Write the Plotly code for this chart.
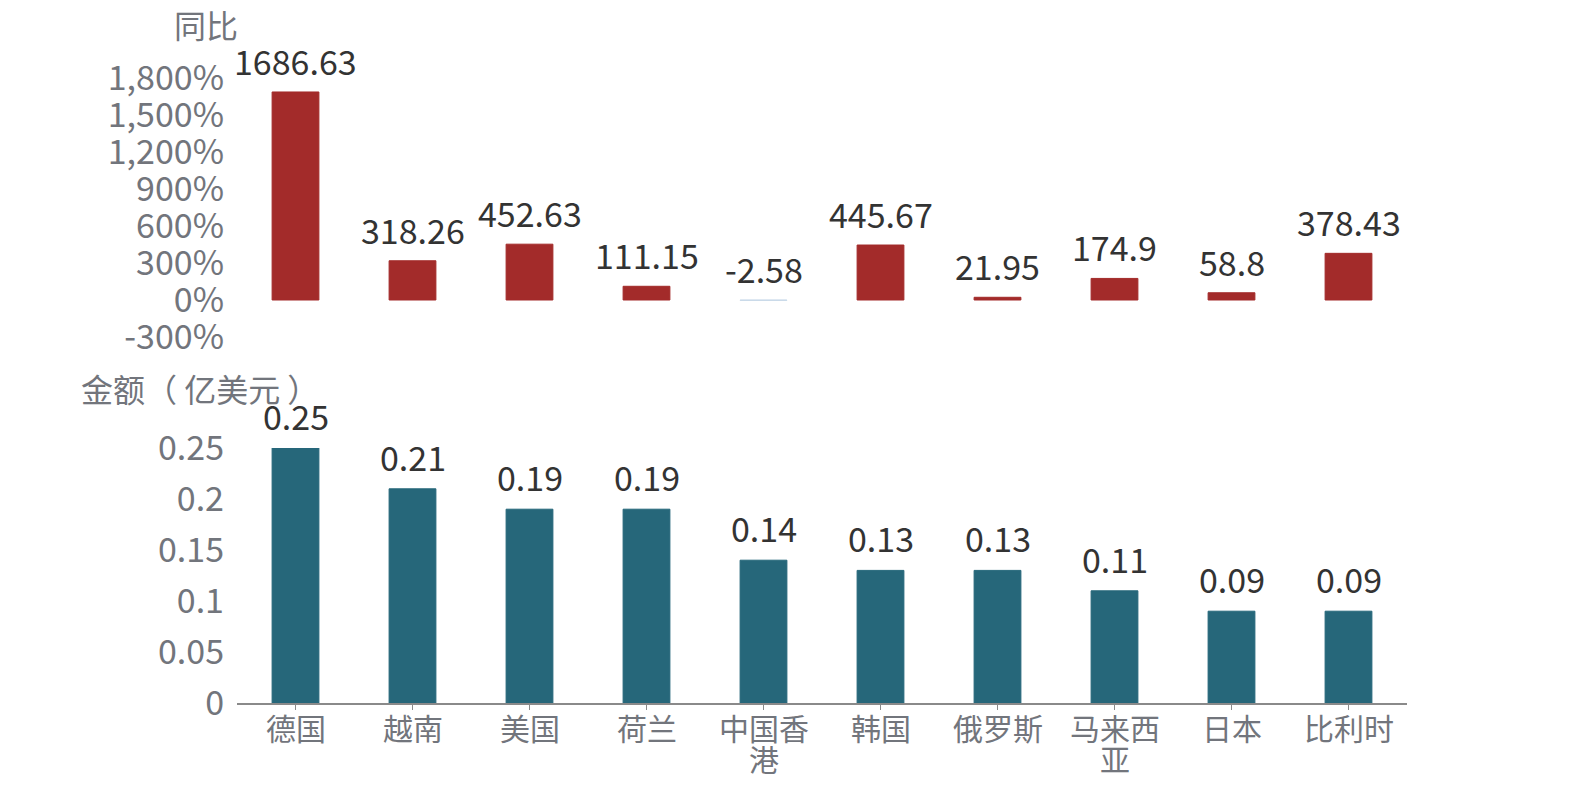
import plotly.graph_objects as go
from plotly.subplots import make_subplots

categories = ["德国", "越南", "美国", "荷兰", "中国香港", "韩国", "俄罗斯", "马来西亚", "日本", "比利时"]
yoy_pct = [1686.63, 318.26, 452.63, 111.15, -2.58, 445.67, 21.95, 174.9, 58.8, 378.43]
amount = [0.25, 0.21, 0.19, 0.19, 0.14, 0.13, 0.13, 0.11, 0.09, 0.09]
yoy_ticks = [-300, 0, 300, 600, 900, 1200, 1500, 1800]
yoy_ticktext = ["-300%", "0%", "300%", "600%", "900%", "1,200%", "1,500%", "1,800%"]
amt_ticks = [0, 0.05, 0.1, 0.15, 0.2, 0.25]
amt_ticktext = ["0", "0.05", "0.1", "0.15", "0.2", "0.25"]

RED = "#a32b2a"
TEAL = "#26677a"
NEG = "#c6d8e8"
FONT = "Noto Sans CJK SC"
TICKC = "#72757c"
LABC = "#333333"

W, H = 1570, 787
OFF = 8  # page body margin
ML = 237 - OFF
MT = 2
MR = W - (1407 - OFF)
MB = H - (703 - OFF)
PH = H - MT - MB
PW = W - ML - MR

def py(pix):
    return (H - MB - (pix - OFF)) / PH

def px(pix):
    return ((pix - OFF) - ML) / PW

WRAP = 3
label_lines = [[c[i:i + WRAP] for i in range(0, len(c), WRAP)] for c in categories]

fig = make_subplots(rows=2, cols=1, shared_xaxes=False, vertical_spacing=0.05)

fig.add_trace(go.Bar(
    x=categories, y=yoy_pct, width=0.4,
    marker=dict(color=[RED if v >= 0 else NEG for v in yoy_pct],
                line=dict(color=[RED if v >= 0 else NEG for v in yoy_pct], width=1)),
    hoverinfo="skip", showlegend=False), row=1, col=1)

fig.add_trace(go.Bar(
    x=categories, y=amount, width=0.4,
    marker=dict(color=TEAL, line=dict(color=TEAL, width=1)),
    hoverinfo="skip", showlegend=False), row=2, col=1)

annos = []
for c, v in zip(categories, yoy_pct):
    annos.append(dict(x=c, y=max(v, 0), xref="x", yref="y", text=f"{v:g}",
                      showarrow=False, yanchor="bottom", yshift=5,
                      font=dict(family=FONT, size=34, color=LABC)))
for c, v in zip(categories, amount):
    annos.append(dict(x=c, y=v, xref="x2", yref="y2", text=f"{v:g}",
                      showarrow=False, yanchor="bottom", yshift=6,
                      font=dict(family=FONT, size=34, color=LABC)))
for c, lines in zip(categories, label_lines):
    for i, ln in enumerate(lines):
        annos.append(dict(x=c, y=0, xref="x2", yref="y2", text=ln, showarrow=False,
                          xanchor="center", yanchor="middle", yshift=-(24 + 31 * i),
                          font=dict(family=FONT, size=30, color=TICKC)))
annos.append(dict(x=px(206), y=py(24), xref="paper", yref="paper", text="同比", showarrow=False,
                  xanchor="center", yanchor="middle",
                  font=dict(family=FONT, size=32, color=TICKC)))
annos.append(dict(x=px(200), y=py(388), xref="paper", yref="paper", text="金额（ 亿美元 ）",
                  showarrow=False, xanchor="center", yanchor="middle",
                  font=dict(family=FONT, size=32, color=TICKC)))

fig.update_layout(
    width=W, height=H,
    margin=dict(l=ML, r=MR, t=MT, b=MB, autoexpand=False),
    paper_bgcolor="white", plot_bgcolor="white",
    annotations=annos,
    font=dict(family=FONT),
)

fig.update_xaxes(row=1, col=1, visible=False, range=[-0.5, 9.5])
fig.update_yaxes(row=1, col=1, domain=[py(337), py(78)], range=[-300, 1800],
                 tickvals=yoy_ticks, ticktext=yoy_ticktext, automargin=False,
                 ticklabelstandoff=12,
                 showgrid=False, zeroline=False, showline=False,
                 tickfont=dict(family=FONT, size=34, color=TICKC))
fig.update_xaxes(row=2, col=1, range=[-0.5, 9.5], showline=True, linecolor="#8a8a8a",
                 linewidth=1.5, ticks="outside", ticklen=5, tickcolor="#8a8a8a",
                 tickvals=categories, showticklabels=False,
                 showgrid=False, automargin=False)
fig.update_yaxes(row=2, col=1, domain=[0, py(448)], range=[0, 0.25],
                 tickvals=amt_ticks, ticktext=amt_ticktext, automargin=False,
                 ticklabelstandoff=12,
                 showgrid=False, zeroline=False, showline=False,
                 tickfont=dict(family=FONT, size=34, color=TICKC))

fig.write_html("out.html")
